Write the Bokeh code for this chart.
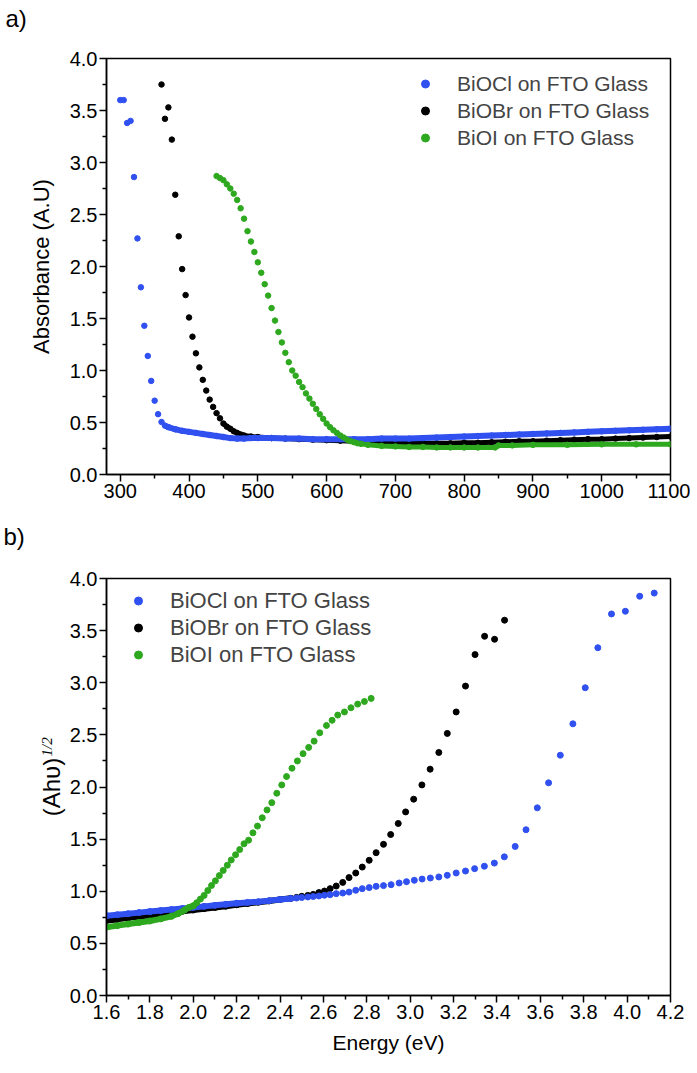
from bokeh.plotting import figure
from bokeh.layouts import column
from bokeh.models import (FixedTicker, PrintfTickFormatter, Legend, LegendItem,
                          Title, Range1d)
from bokeh.embed import file_html
from bokeh.resources import INLINE

# ---------------- data: panel a) absorbance vs wavelength (nm) ----------------
labels = ["BiOCl on FTO Glass", "BiOBr on FTO Glass", "BiOI on FTO Glass"]

cl_a_x = [300, 305, 310, 315, 320, 325, 330, 335, 340, 345, 350, 355, 360]
cl_a_y = [3.60, 3.60, 3.38, 3.40, 2.86, 2.27, 1.80, 1.43, 1.14, 0.90, 0.71, 0.58, 0.505]
cl_a_band_x = [365, 370, 380, 390, 400, 410, 420, 430, 440, 450, 460, 470, 480, 490, 500,
               520, 540, 560, 580, 600, 620, 640, 660, 680, 700, 720, 740, 760, 780, 800,
               820, 840, 860, 880, 900, 920, 940, 960, 980, 1000, 1020, 1040, 1060, 1080, 1100]
cl_a_band_y = [0.47, 0.455, 0.435, 0.42, 0.41, 0.40, 0.39, 0.38, 0.37, 0.36, 0.35, 0.345, 0.345, 0.35, 0.35,
               0.35, 0.345, 0.345, 0.34, 0.34, 0.34, 0.34, 0.34, 0.345, 0.345, 0.345, 0.35, 0.355, 0.36, 0.365,
               0.37, 0.375, 0.38, 0.385, 0.39, 0.395, 0.40, 0.405, 0.41, 0.415, 0.42, 0.425, 0.43, 0.435, 0.44]

br_a_x = [360, 365, 370, 375, 380, 385, 390, 395, 400, 405, 410, 415, 420, 425, 430, 435, 440, 445]
br_a_y = [3.75, 3.42, 3.53, 3.22, 2.69, 2.29, 1.975, 1.725, 1.51, 1.325, 1.165, 1.03, 0.91, 0.807,
          0.72, 0.65, 0.59, 0.54]
br_a_band_x = [450, 455, 460, 465, 470, 475, 480, 490, 500, 520, 540, 560, 580, 600, 620, 640, 660,
               680, 700, 720, 740, 760, 780, 800, 820, 840, 860, 880, 900, 920, 940, 960, 980, 1000,
               1020, 1040, 1060, 1080, 1100]
br_a_band_y = [0.49, 0.46, 0.44, 0.415, 0.40, 0.385, 0.375, 0.365, 0.36, 0.35, 0.345, 0.34, 0.335, 0.33,
               0.325, 0.32, 0.315, 0.31, 0.305, 0.305, 0.30, 0.30, 0.30, 0.305, 0.305, 0.31, 0.315, 0.32,
               0.32, 0.325, 0.33, 0.335, 0.34, 0.34, 0.345, 0.35, 0.355, 0.36, 0.365]

oi_a_x = [440, 445, 450, 455, 460, 465, 470, 475, 480, 485, 490, 495, 500, 505, 510, 515, 520, 525,
          530, 535, 540, 545, 550, 555, 560, 565, 570, 575, 580, 585, 590, 595, 600, 605, 610, 615,
          620, 625, 630, 635, 640]
oi_a_y = [2.87, 2.85, 2.83, 2.79, 2.75, 2.70, 2.64, 2.56, 2.46, 2.34, 2.24, 2.14, 2.04, 1.94, 1.83,
          1.72, 1.60, 1.48, 1.37, 1.27, 1.17, 1.08, 1.00, 0.95, 0.89, 0.84, 0.78, 0.73, 0.68, 0.63,
          0.58, 0.535, 0.49, 0.455, 0.425, 0.40, 0.375, 0.355, 0.335, 0.32, 0.31]
oi_a_band_x = [645, 650, 660, 680, 700, 720, 740, 760, 780, 800, 820, 845, 850, 870, 900, 950,
               1000, 1050, 1100]
oi_a_band_y = [0.30, 0.295, 0.285, 0.275, 0.27, 0.265, 0.265, 0.26, 0.26, 0.26, 0.26, 0.26, 0.28,
               0.28, 0.285, 0.285, 0.29, 0.29, 0.29]

# ---------------- data: panel b) (Ahv)^1/2 vs energy (eV) ----------------
cl_b_x = [4.125, 4.058, 3.992, 3.928, 3.865, 3.807, 3.75, 3.692, 3.638, 3.586, 3.534, 3.484, 3.434,
          3.388, 3.342, 3.297, 3.255, 3.212, 3.171, 3.132, 3.093, 3.055, 3.019, 2.983, 2.949, 2.912,
          2.877, 2.843, 2.811, 2.779, 2.749, 2.718, 2.689, 2.659, 2.631, 2.605, 2.579, 2.553, 2.528,
          2.50, 2.476]
cl_b_y = [3.86, 3.83, 3.686, 3.66, 3.336, 2.952, 2.606, 2.305, 2.04, 1.80, 1.59, 1.43, 1.33, 1.27,
          1.24, 1.217, 1.194, 1.175, 1.153, 1.137, 1.127, 1.117, 1.105, 1.092, 1.079, 1.063, 1.054,
          1.047, 1.035, 1.025, 1.009, 0.992, 0.983, 0.977, 0.967, 0.962, 0.955, 0.95, 0.945, 0.94,
          0.935]
cl_b_band_x = [1.60, 1.65, 1.70, 1.75, 1.80, 1.85, 1.90, 1.95, 2.00, 2.05, 2.10, 2.15, 2.20, 2.25,
               2.30, 2.35, 2.40, 2.45]
cl_b_band_y = [0.765, 0.775, 0.785, 0.795, 0.805, 0.815, 0.825, 0.835, 0.845, 0.855, 0.865, 0.875,
               0.885, 0.893, 0.90, 0.91, 0.92, 0.93]

br_b_x = [3.435, 3.389, 3.343, 3.299, 3.255, 3.212, 3.171, 3.132, 3.092, 3.054, 3.016, 2.979, 2.945,
          2.91, 2.877, 2.843, 2.811, 2.779, 2.749, 2.718, 2.689, 2.659, 2.631, 2.605, 2.579, 2.553,
          2.528, 2.50, 2.476]
br_b_y = [3.60, 3.417, 3.446, 3.27, 2.968, 2.72, 2.514, 2.331, 2.171, 2.02, 1.883, 1.761, 1.65, 1.544,
          1.45, 1.37, 1.297, 1.232, 1.175, 1.131, 1.085, 1.05, 1.025, 1.002, 0.987, 0.97, 0.96, 0.951,
          0.941]
br_b_band_x = [1.60, 1.65, 1.70, 1.75, 1.80, 1.85, 1.90, 1.95, 2.00, 2.05, 2.10, 2.15, 2.20, 2.25,
               2.30, 2.35, 2.40, 2.45]
br_b_band_y = [0.72, 0.73, 0.745, 0.757, 0.77, 0.782, 0.795, 0.808, 0.82, 0.833, 0.845, 0.857, 0.87,
               0.882, 0.895, 0.907, 0.92, 0.932]

oi_b_x = [2.82, 2.789, 2.758, 2.727, 2.697, 2.666, 2.64, 2.614, 2.583, 2.557, 2.532, 2.506, 2.48,
          2.455, 2.43, 2.408, 2.385, 2.362, 2.34, 2.318, 2.296, 2.275, 2.255, 2.234, 2.214, 2.195,
          2.175, 2.157, 2.138, 2.12, 2.102, 2.084, 2.067, 2.05, 2.033, 2.016, 2.0]
oi_b_y = [2.85, 2.82, 2.795, 2.76, 2.72, 2.69, 2.64, 2.59, 2.52, 2.44, 2.38, 2.32, 2.25, 2.18, 2.10,
          2.02, 1.94, 1.85, 1.78, 1.705, 1.625, 1.56, 1.49, 1.455, 1.40, 1.35, 1.30, 1.25, 1.20, 1.15,
          1.10, 1.055, 1.007, 0.96, 0.925, 0.89, 0.86]
oi_b_band_x = [1.60, 1.65, 1.70, 1.75, 1.80, 1.85, 1.90, 1.93, 1.96, 1.98, 2.0]
oi_b_band_y = [0.655, 0.67, 0.685, 0.70, 0.715, 0.735, 0.76, 0.785, 0.82, 0.845, 0.86]

a_xticks = [300, 400, 500, 600, 700, 800, 900, 1000, 1100]
a_xminor = [350, 450, 550, 650, 750, 850, 950, 1050]
b_xticks = [1.6, 1.8, 2.0, 2.2, 2.4, 2.6, 2.8, 3.0, 3.2, 3.4, 3.6, 3.8, 4.0, 4.2]
b_xminor = [1.7, 1.9, 2.1, 2.3, 2.5, 2.7, 2.9, 3.1, 3.3, 3.5, 3.7, 3.9, 4.1]
yticks = [0.0, 0.5, 1.0, 1.5, 2.0, 2.5, 3.0, 3.5, 4.0]
yminor = [0.25, 0.75, 1.25, 1.75, 2.25, 2.75, 3.25, 3.75]

BLUE = "#3050f0"
BLACK = "#000000"
GREEN = "#2ea81f"
FONT = "Liberation Sans"


def style_axes(p, xt, xm, xfmt):
    p.xgrid.visible = False
    p.ygrid.visible = False
    p.outline_line_color = "black"
    p.outline_line_width = 1.5
    p.outline_line_alpha = 1.0
    p.background_fill_color = "white"
    p.border_fill_color = "white"
    p.xaxis.ticker = FixedTicker(ticks=xt, minor_ticks=xm)
    p.yaxis.ticker = FixedTicker(ticks=yticks, minor_ticks=yminor)
    p.xaxis.formatter = PrintfTickFormatter(format=xfmt)
    p.yaxis.formatter = PrintfTickFormatter(format="%.1f")
    for ax in (p.xaxis[0], p.yaxis[0]):
        ax.axis_line_width = 1.5
        ax.axis_line_color = "black"
        ax.major_tick_line_width = 1.5
        ax.minor_tick_line_width = 1.5
        ax.major_tick_line_color = "black"
        ax.minor_tick_line_color = "black"
        ax.major_tick_out = 7
        ax.major_tick_in = 0
        ax.minor_tick_out = 4
        ax.minor_tick_in = 0
        ax.major_label_text_font = FONT
        ax.major_label_text_font_size = "20px"
        ax.major_label_text_color = "black"
        ax.axis_label_text_font = FONT
        ax.axis_label_text_font_style = "normal"
        ax.axis_label_text_font_size = "22px"
        ax.axis_label_text_color = "black"
        ax.major_label_standoff = 2


def add_legend(p, renderers, loc, fsize):
    items = [LegendItem(label=lab, renderers=[r]) for lab, r in zip(labels, renderers)]
    leg = Legend(items=items, location=loc, orientation="vertical",
                 border_line_color=None, background_fill_alpha=0,
                 label_text_font=FONT, label_text_font_size=fsize,
                 glyph_width=20, glyph_height=27, label_height=27,
                 spacing=0, padding=0, margin=0, label_standoff=22)
    p.add_layout(leg)


def panel_tag(p, text, tag_standoff, spacer_standoff, offset):
    # outermost title carries the panel letter, a blank title keeps it away from the frame
    p.title = Title(text=text, align="left", offset=offset, standoff=tag_standoff,
                    vertical_align="bottom", text_font=FONT, text_font_size="24px",
                    text_font_style="normal", text_color="black")
    p.add_layout(Title(text=" ", align="left", standoff=spacer_standoff, text_font=FONT,
                       text_font_size="24px", text_font_style="normal"), "above")


# ---------------- panel a ----------------
pa = figure(width=690, height=520, x_range=Range1d(280, 1100), y_range=Range1d(0, 4),
            output_backend="svg", toolbar_location=None,
            min_border_left=104, min_border_right=20, min_border_top=58, min_border_bottom=46)
style_axes(pa, a_xticks, a_xminor, "%d")
pa.yaxis.axis_label = "Absorbance (A.U)"
pa.yaxis.axis_label_standoff = 13
panel_tag(pa, "a)", 0, -2, -101)

pa.line(br_a_band_x, br_a_band_y, color=BLACK, line_width=5)
pa.scatter(br_a_band_x, br_a_band_y, color=BLACK, size=5.5)
ra_br = pa.scatter(br_a_x, br_a_y, color=BLACK, size=5.5)
pa.line(cl_a_band_x, cl_a_band_y, color=BLUE, line_width=6)
pa.scatter(cl_a_band_x, cl_a_band_y, color=BLUE, size=5.5)
ra_cl = pa.scatter(cl_a_x, cl_a_y, color=BLUE, size=5.5)
pa.line(oi_a_band_x, oi_a_band_y, color=GREEN, line_width=5)
pa.scatter(oi_a_band_x, oi_a_band_y, color=GREEN, size=5.5)
ra_oi = pa.scatter(oi_a_x, oi_a_y, color=GREEN, size=5.5)
add_legend(pa, [ra_cl, ra_br, ra_oi], (309, 323), "21px")

# ---------------- panel b ----------------
pb = figure(width=690, height=553, x_range=Range1d(1.6, 4.2), y_range=Range1d(0, 4),
            output_backend="svg", toolbar_location=None,
            min_border_left=106, min_border_right=20, min_border_top=58, min_border_bottom=78)
style_axes(pb, b_xticks, b_xminor, "%.1f")
pb.xaxis.axis_label = "Energy (eV)"
pb.xaxis.axis_label_standoff = 9
pb.xaxis.axis_label_text_font_size = "21px"
pb.yaxis.axis_label = "(Ahυ)"
pb.yaxis.axis_label_standoff = 2
pb.yaxis.axis_label_text_font_size = "24px"
panel_tag(pb, "b)", -2, 1, -103)
pb.add_layout(Title(text="1/2", align="left", offset=239, standoff=-40,
                    vertical_align="bottom", text_font="Liberation Serif",
                    text_font_size="15px", text_font_style="italic",
                    text_color="black"), "left")

pb.line(br_b_band_x, br_b_band_y, color=BLACK, line_width=6)
pb.scatter(br_b_band_x, br_b_band_y, color=BLACK, size=6)
rb_br = pb.scatter(br_b_x, br_b_y, color=BLACK, size=6)
pb.line(cl_b_band_x, cl_b_band_y, color=BLUE, line_width=6)
pb.scatter(cl_b_band_x, cl_b_band_y, color=BLUE, size=6)
rb_cl = pb.scatter(cl_b_x, cl_b_y, color=BLUE, size=6)
pb.line(oi_b_band_x, oi_b_band_y, color=GREEN, line_width=6)
pb.scatter(oi_b_band_x, oi_b_band_y, color=GREEN, size=6)
rb_oi = pb.scatter(oi_b_x, oi_b_y, color=GREEN, size=6)
add_legend(pb, [rb_cl, rb_br, rb_oi], (22, 327), "22px")

layout = column(pa, pb, spacing=0)
open("out.html", "w").write(file_html(layout, INLINE))
